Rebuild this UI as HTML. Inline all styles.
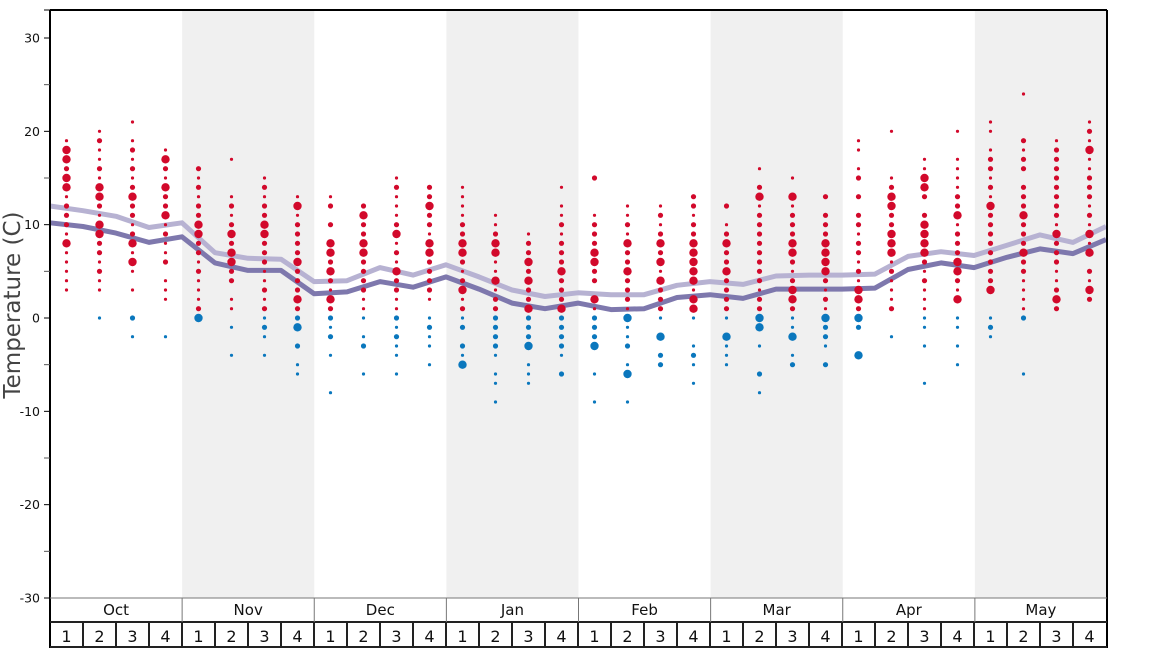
<!DOCTYPE html>
<html><head><meta charset="utf-8"><style>
body{margin:0;background:#fff;}
svg{display:block;font-family:"DejaVu Sans","Liberation Sans",sans-serif;}
</style></head><body>
<svg id="chart" width="1168" height="648" viewBox="0 0 1168 648" xmlns="http://www.w3.org/2000/svg">
<g id="bands"></g>
<g id="lines"></g>
<g id="dots"></g>
<g id="axes"></g>
<text transform="translate(20,305) rotate(-90)" text-anchor="middle" font-size="23" fill="#444">Temperature (C)</text>
</svg>
<script>
const months = ["Oct","Nov","Dec","Jan","Feb","Mar","Apr","May"];
const weeks = ["1","2","3","4"];
const yTicks = [30,20,10,0,-10,-20,-30];
const yMinorTicks = [25,15,5,-5,-15,-25];
const lightLine = [12.0,11.5,10.9,9.7,10.2,7.0,6.4,6.3,3.9,4.0,5.4,4.6,5.7,4.4,3.0,2.3,2.7,2.5,2.5,3.5,3.9,3.6,4.5,4.6,4.6,4.7,6.6,7.1,6.7,7.8,8.9,8.1,9.8];
const darkLine = [10.2,9.8,9.1,8.1,8.7,5.9,5.1,5.1,2.6,2.8,3.9,3.3,4.4,3.1,1.6,1.0,1.6,0.9,1.0,2.2,2.5,2.1,3.1,3.1,3.1,3.2,5.2,5.9,5.4,6.5,7.4,6.9,8.4];
const dotTop = [19,20,21,18,16,17,15,13,13,12,15,14,14,11,9,14,15,12,12,13,12,16,15,13,19,20,17,20,21,24,19,21];
const dotSizes = [
"13323312221311111","121121332133221211001","1012121232212313101002 1",
"132132231211201110001","21212233221211123","1000121232332201101001",
"12122332221121212101","13122223222322302011",
"1202033232132212010001","2322332222111012001","1211123121322112121101",
"22322133222210121101","11112233212312120213","1123311312222221011 1",
"12232322322230111","101121222322232222102",
"2000122233220312223001 01","1121322322213112013001","121232313222103022",
"221223333313310012101",
"201232232222103111","1023122222222122330100201","103122233212332113012",
"2022233332121322102",
"110120202212212133232003","100001233223331211120 1","1133202333321211111010001",
"10011112231222332130110101",
"110122121322222222300121","10000212202223222322111120000 1","1222222221322211232",
"12131122212131302132"];
</script>
<script>
const X0=50,X1=1107,YT=10,YB=598;
const NS="http://www.w3.org/2000/svg";
function yS(t){return 318-t*(560/60);}
function xW(i){return X0+33*i;}
function mk(tag,attrs,parent){const e=document.createElementNS(NS,tag);for(const k in attrs)e.setAttribute(k,attrs[k]);parent.appendChild(e);return e;}
const bands=document.getElementById('bands'),lines=document.getElementById('lines'),dots=document.getElementById('dots'),axes=document.getElementById('axes');
const mw=(X1-X0)/months.length;
months.forEach((m,i)=>{
  if(i%2===1){const r=mk('rect',{x:X0+i*mw,y:YT,width:mw,height:YB-YT,fill:'#f0f0f0'},bands);
  
  }
});
function pathFor(arr){return arr.map((v,i)=>(i?'L':'M')+xW(i).toFixed(1)+','+yS(v).toFixed(1)).join(' ');}
const lp=mk('path',{d:pathFor(lightLine),fill:'none',stroke:'#b7b2d2','stroke-width':5,'stroke-linejoin':'round'},lines);


const dp=mk('path',{d:pathFor(darkLine),fill:'none',stroke:'#7e78ad','stroke-width':5,'stroke-linejoin':'round'},lines);


const radii=[0,1.6,2.6,4.2];
dotSizes.forEach((s,c)=>{
  const cx=X0+16.5+33*c;
  for(let j=0;j<s.length;j++){
    const code=parseInt(s[j]);if(!code)continue;
    const t=dotTop[c]-j;
    const d=mk('circle',{cx:cx,cy:yS(t).toFixed(1),r:radii[code],fill:t>0?'#d2092b':'#0a77bd'},dots);
    
    
  }
});
mk('line',{x1:X0,y1:YT,x2:X1,y2:YT,stroke:'#000','stroke-width':2},axes);
mk('line',{x1:X1,y1:YT,x2:X1,y2:648,stroke:'#000','stroke-width':2},axes);
mk('line',{x1:X0,y1:YT,x2:X0,y2:648,stroke:'#000','stroke-width':2},axes);
mk('line',{x1:X0,y1:YB,x2:X1,y2:YB,stroke:'#777','stroke-width':1},axes);
mk('line',{x1:X0,y1:622,x2:X1,y2:622,stroke:'#222','stroke-width':2},axes);
mk('line',{x1:X0,y1:647,x2:X1,y2:647,stroke:'#222','stroke-width':2},axes);
mk('line',{x1:44,y1:YT,x2:X0,y2:YT,stroke:'#000','stroke-width':1},axes);
yTicks.forEach(t=>{
  mk('line',{x1:44,y1:yS(t),x2:X0,y2:yS(t),stroke:'#000','stroke-width':1},axes);
  const tx=mk('text',{x:40,y:yS(t)+4.5,'text-anchor':'end','font-size':12.5,fill:'#111'},axes);
  tx.textContent=t;
  
  
});
yMinorTicks.forEach(t=>{mk('line',{x1:44,y1:yS(t),x2:X0,y2:yS(t),stroke:'#555','stroke-width':1},axes);});
months.forEach((m,i)=>{
  if(i>0)mk('line',{x1:X0+i*mw,y1:YB,x2:X0+i*mw,y2:622,stroke:'#777','stroke-width':1},axes);
  const tx=mk('text',{x:X0+i*mw+mw/2,y:615,'text-anchor':'middle','font-size':15,fill:'#111'},axes);
  tx.textContent=m;
  
  
  weeks.forEach((w,k)=>{
    const idx=i*4+k;
    if(idx>0)mk('line',{x1:xW(idx),y1:622,x2:xW(idx),y2:648,stroke:'#222','stroke-width':2},axes);
    const wt=mk('text',{x:xW(idx)+16.5,y:642,'text-anchor':'middle','font-size':16,fill:'#111'},axes);
    wt.textContent=w;
    
    
  });
});
</script>
</body></html>
